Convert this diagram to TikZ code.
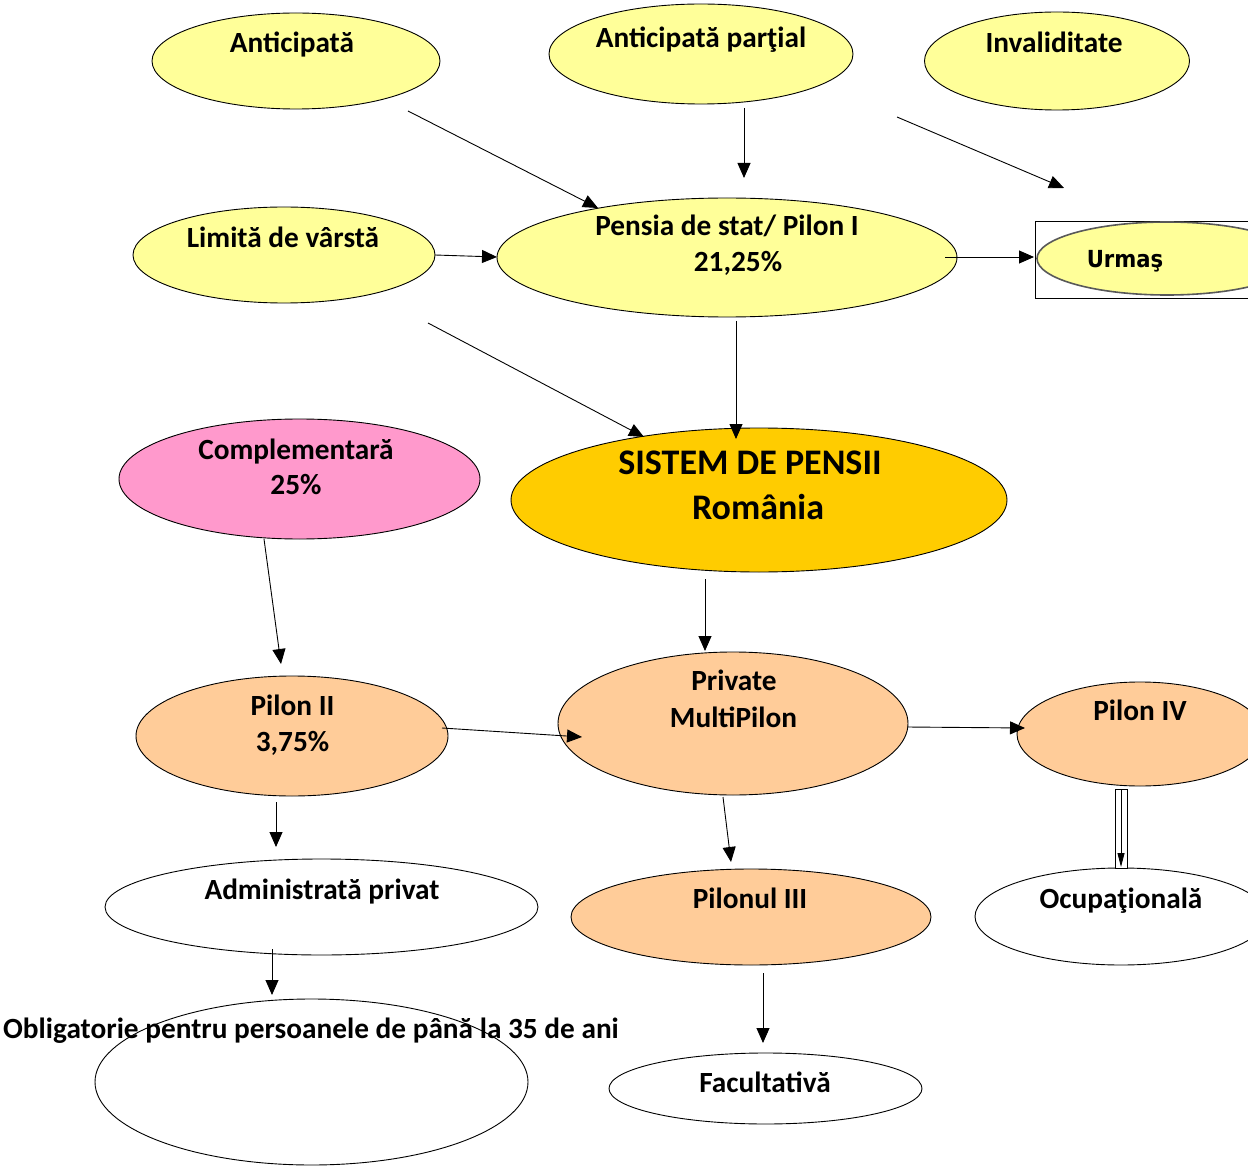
\documentclass[tikz,border=0pt]{standalone}
\usepackage{fontspec}
\setmainfont{Carlito}
\newfontfamily\urmfont{DejaVu Sans Condensed}
\usetikzlibrary{shapes.geometric,arrows.meta}
\definecolor{yel}{HTML}{FFFF99}
\definecolor{pinkc}{HTML}{FF99CC}
\definecolor{goldc}{HTML}{FFCC00}
\definecolor{peach}{HTML}{FFCC99}
\begin{document}
\begin{tikzpicture}[x=1pt,y=-1pt,
  ell/.style={ellipse, draw=black, line width=0.9pt, inner sep=0pt},
  yelE/.style={ell, fill=yel},
  peachE/.style={ell, fill=peach},
  whiteE/.style={ell, fill=white},
  txt/.style={anchor=base, inner sep=0pt, font=\fontsize{29.3}{36}\selectfont\bfseries},
  bigtxt/.style={anchor=base, inner sep=0pt, font=\fontsize{36}{44}\selectfont\bfseries},
  arr/.style={draw=black, line width=0.9pt, -{Triangle[length=15pt,width=13pt]}},
  thinarr/.style={draw=black, line width=0.9pt, -{Triangle[length=14pt,width=7pt]}},
]
\path[use as bounding box] (0,0) rectangle (1248,1166);
\clip (0,0) rectangle (1248,1166);

% ellipses
\node[yelE, minimum width=288, minimum height=96] (ant) at (296,61) {};
\node[yelE, minimum width=304, minimum height=100] (antp) at (701,54) {};
\node[yelE, minimum width=265, minimum height=98] (inv) at (1057,61) {};
\node[yelE, minimum width=302, minimum height=96] (lim) at (284,255) {};
\node[yelE, minimum width=460, minimum height=119] (pen) at (727,257.5) {};
\node[draw=black, line width=0.9pt, fill=white, minimum width=264, minimum height=77, inner sep=0pt] (urmbox) at (1167,259.5) {};
\node[ell, fill=yel, draw=black!65, line width=1.6pt, minimum width=260, minimum height=73] (urm) at (1167,258.5) {};
\node[ell, fill=pinkc, minimum width=361, minimum height=120] (comp) at (299.5,479) {};
\node[ell, fill=goldc, minimum width=496, minimum height=144] (sis) at (759,500) {};
\node[peachE, minimum width=312, minimum height=120] (p2) at (292,736) {};
\node[peachE, minimum width=350, minimum height=143] (priv) at (733,723.5) {};
\node[peachE, minimum width=246, minimum height=104] (p4) at (1140,734) {};
\node[whiteE, minimum width=433, minimum height=96] (adm) at (321.5,907) {};
\node[peachE, minimum width=360, minimum height=96] (p3) at (751,917) {};
\node[whiteE, minimum width=292, minimum height=97] (ocu) at (1121,916.5) {};
\node[whiteE, minimum width=433, minimum height=166] (obl) at (311.5,1082) {};
\node[whiteE, minimum width=313, minimum height=71] (fac) at (765.5,1088.5) {};

% texts
\node[txt] (antT) at (292,53) {Anticipată};
\node[txt] (antpT) at (701,48) {Anticipată parţial};
\node[txt] (invT) at (1054,53) {Invaliditate};
\node[txt] (limT) at (283,248) {Limită de vârstă};
\node[txt] (penT1) at (727,236) {Pensia de stat/ Pilon I};
\node[txt] (penT2) at (738,272) {21,25\%};
\node[anchor=base, inner sep=0pt, font=\urmfont\fontsize{23.5}{28}\selectfont\bfseries] (urmT) at (1125,268) {Urmaş};
\node[txt] (compT1) at (296,459) {Complementară};
\node[txt] (compT2) at (296,494) {25\%};
\node[bigtxt] (sisT1) at (750,474) {SISTEM DE PENSII};
\node[bigtxt] (sisT2) at (758,519) {România};
\node[txt] (p2T1) at (292.5,715) {Pilon II};
\node[txt] (p2T2) at (292.5,751) {3,75\%};
\node[txt] (privT1) at (734,690) {Private};
\node[txt] (privT2) at (733.5,727) {MultiPilon};
\node[txt] (p4T) at (1140,720) {Pilon IV};
\node[txt] (admT) at (322,899) {Administrată privat};
\node[txt] (p3T) at (750,908) {Pilonul III};
\node[txt] (ocuT) at (1121,908) {Ocupaţională};
\node[txt] (oblT) at (311,1038) {Obligatorie pentru persoanele de până la 35 de ani};
\node[txt] (facT) at (765,1092) {Facultativă};

% connector end points
\coordinate (antOut) at (408,111);   \coordinate (penInA) at (598,208);
\coordinate (antpOut) at (744,108);  \coordinate (penInB) at (744,178);
\coordinate (invOut) at (897,117);   \coordinate (invEnd) at (1064,188);
\coordinate (limOut) at (435,255);   \coordinate (penInC) at (497,257);
\coordinate (penOutR) at (945,257);  \coordinate (urmIn) at (1034,257);
\coordinate (limOut2) at (428,323);  \coordinate (sisInA) at (644,437);
\coordinate (penOutB) at (736,321);  \coordinate (sisInB) at (736,439);
\coordinate (compOut) at (264,539);  \coordinate (p2In) at (281,664);
\coordinate (sisOut) at (705,579);   \coordinate (privInT) at (705,651);
\coordinate (p2OutR) at (442,728);   \coordinate (privInL) at (582,737);
\coordinate (privOutR) at (907,727); \coordinate (p4In) at (1025,728);
\coordinate (p2OutB) at (276,802);   \coordinate (admIn) at (276,847);
\coordinate (privOutB) at (723,797); \coordinate (p3In) at (731,862);
\coordinate (admOut) at (272,949);   \coordinate (oblIn) at (272,995);
\coordinate (p3Out) at (763,973);    \coordinate (facIn) at (763,1043);
\coordinate (p4Out) at (1121,790);   \coordinate (ocuIn) at (1121,867);

% connectors
\draw[arr] (antOut) -- (penInA);
\draw[arr] (antpOut) -- (penInB);
\draw[arr] (invOut) -- (invEnd);
\draw[arr] (limOut) -- (penInC);
\draw[arr] (penOutR) -- (urmIn);
\draw[arr] (limOut2) -- (sisInA);
\draw[arr] (penOutB) -- (sisInB);
\draw[arr] (compOut) -- (p2In);
\draw[arr] (sisOut) -- (privInT);
\draw[arr] (p2OutR) -- (privInL);
\draw[arr] (privOutR) -- (p4In);
\draw[arr] (p2OutB) -- (admIn);
\draw[arr] (privOutB) -- (p3In);
\draw[arr] (admOut) -- (oblIn);
\draw[arr] (p3Out) -- (facIn);
\node[draw=black, line width=0.9pt, fill=white, minimum width=12, minimum height=79, inner sep=0pt] (dbl) at (1121,828.5) {};
\draw[thinarr] (p4Out) -- (ocuIn);
\end{tikzpicture}
\end{document}
